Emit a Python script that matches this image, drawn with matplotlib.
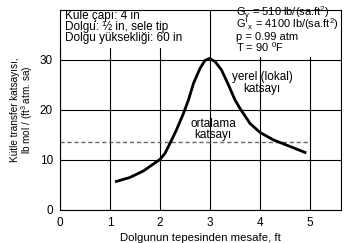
import matplotlib
matplotlib.use("Agg")
import matplotlib.pyplot as plt
from matplotlib.patches import Rectangle

# local coefficient curve
dist = [1.13, 1.4, 1.67, 1.87, 2.0, 2.1, 2.2, 2.33, 2.47, 2.57, 2.67, 2.8, 2.9, 2.99,
        3.1, 3.23, 3.37, 3.5, 3.6, 3.7, 3.8, 4.0, 4.27, 4.6, 4.9]
kya = [5.7, 6.5, 7.8, 9.2, 10.1, 11.3, 13.3, 16.0, 19.3, 22.0, 25.3, 28.3, 29.9, 30.3,
       29.7, 28.0, 25.0, 22.0, 20.3, 18.8, 17.3, 15.5, 14.0, 12.7, 11.5]
avg_k = 13.5
avg_x = [0, 5]
xticks = [0, 1, 2, 3, 4, 5]
yticks = [0, 10, 20, 30]

left_notes = ["Kule çapı: 4 in", "Dolgu: ½ in, sele tip", "Dolgu yüksekliği: 60 in"]
right_notes = ["G$_\\mathregular{y}$ = 510 lb/(sa.ft$^\\mathregular{2}$)",
               "G$'_\\mathregular{x}$ = 4100 lb/(sa.ft$^\\mathregular{2}$)",
               "p = 0.99 atm",
               "T = 90 $^\\mathregular{0}$F"]

plt.rcParams['font.family'] = ['Liberation Sans', 'DejaVu Sans']
fig = plt.figure(figsize=(3.52, 2.43), dpi=100)
ax = fig.add_axes([0.170, 0.136, 0.799, 0.823])
ax.set_xlim(0, 5.62)
ax.set_ylim(0, 40)
ax.set_xticks(xticks)
ax.set_yticks(yticks)
ax.tick_params(length=0, labelsize=8.5, pad=5)
ax.grid(True, color='black', lw=0.8)
ax.set_axisbelow(True)
for s in ax.spines.values():
    s.set_linewidth(0.8)

ax.plot(avg_x, [avg_k, avg_k], color='#666666', lw=1, ls=(0, (3, 2)), zorder=3)
ax.plot(dist, kya, color='black', lw=2, zorder=4, solid_joinstyle='round')

# white boxes over the grid for the notes
ax.add_patch(Rectangle((0, 0.81), 0.516, 0.19, transform=ax.transAxes,
                       facecolor='white', edgecolor='none', zorder=2))
ax.add_patch(Rectangle((0.55, 0.765), 0.45, 0.235, transform=ax.transAxes,
                       facecolor='white', edgecolor='none', zorder=2))

for i, t in enumerate(left_notes):
    ax.text(0.02, 0.955 - i * 0.055, t, transform=ax.transAxes, fontsize=8.5,
            va='baseline', ha='left', zorder=5)
for i, t in enumerate(right_notes):
    ax.text(0.625, 0.966 - i * 0.058, t, transform=ax.transAxes, fontsize=8,
            va='baseline', ha='left', zorder=5)

ax.text(4.04, 25.4, "yerel (lokal)\nkatsayı", fontsize=8.5, ha='center', va='center',
        linespacing=0.95, zorder=5)
ax.text(3.06, 16.1, "ortalama\nkatsayı", fontsize=8.5, ha='center', va='center',
        linespacing=0.95, zorder=5)

ax.set_xlabel("Dolgunun tepesinden mesafe, ft", fontsize=8.2, labelpad=3)
ax.set_ylabel("Kütle transfer katsayısı,\nlb mol / (ft$^\\mathregular{3}$ atm. sa)",
              fontsize=7.2, labelpad=3, linespacing=1.0)

fig.savefig("out.png", dpi=100)
